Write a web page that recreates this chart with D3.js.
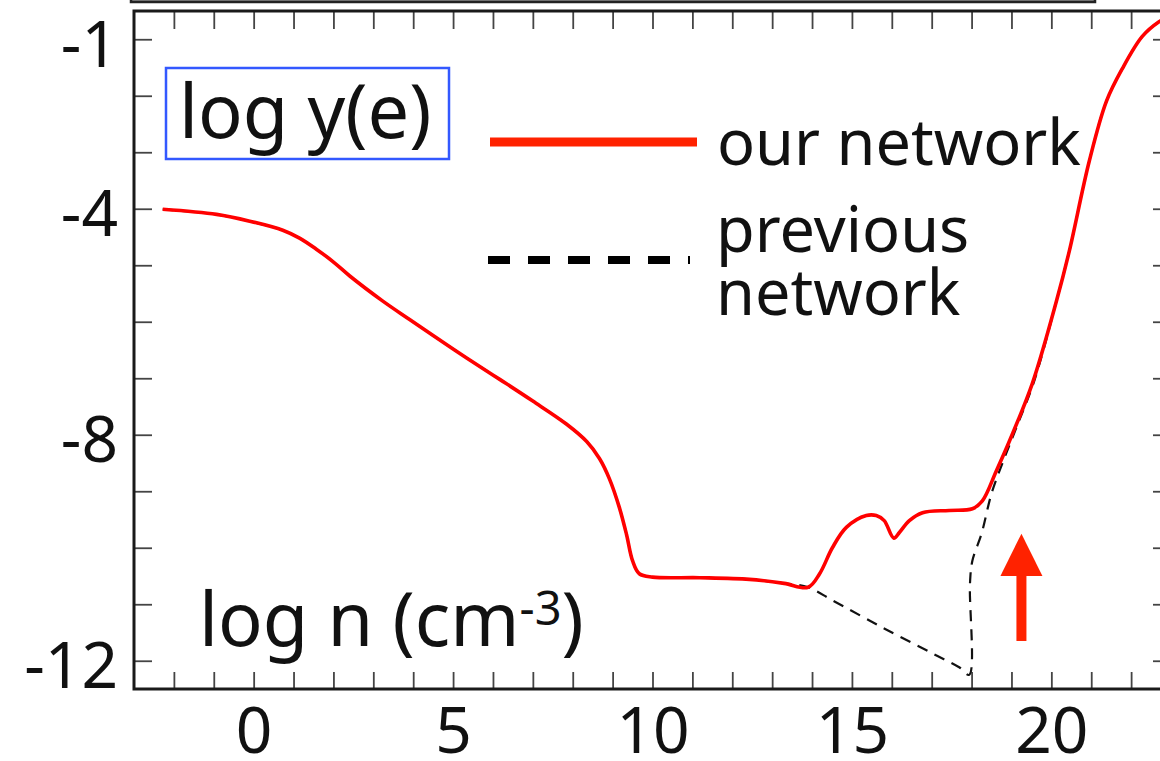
<!DOCTYPE html>
<html>
<head>
<meta charset="utf-8">
<script src="https://cdn.jsdelivr.net/npm/d3@7"></script>
<style>
  html, body { margin: 0; padding: 0; background: #fff; }
  svg { display: block; }
  text { font-family: "Noto Sans", sans-serif; fill: #111; }
</style>
</head>
<body>
<script>
// our network: log y(e) against log n
var ourNetwork = [
  [-2.28, -4.01], [-0.93, -4.10], [-0.10, -4.22], [0.73, -4.38], [1.15, -4.52],
  [1.58, -4.72], [1.98, -4.93], [2.41, -5.19], [3.23, -5.63], [3.91, -5.96],
  [4.49, -6.24], [5.34, -6.64], [6.17, -7.02], [6.99, -7.40], [7.84, -7.81],
  [8.35, -8.12], [8.67, -8.42], [8.92, -8.78], [9.17, -9.29], [9.35, -9.77],
  [9.50, -10.23], [9.67, -10.46], [10.0, -10.52], [11.18, -10.53], [12.43, -10.56],
  [13.3, -10.63], [13.9, -10.70], [14.19, -10.46], [14.51, -10.0], [14.86, -9.64],
  [15.36, -9.43], [15.61, -9.43], [15.81, -9.52], [16.05, -9.83], [16.19, -9.73],
  [16.44, -9.52], [16.77, -9.38], [17.44, -9.34], [18.02, -9.31], [18.27, -9.17],
  [18.62, -8.64], [18.95, -8.11], [19.52, -7.10], [20.13, -5.63], [20.45, -4.75],
  [20.95, -3.16], [21.38, -2.10], [21.78, -1.52], [22.28, -0.95], [22.7, -0.69],
  [23.0, -0.58]
];

// previous network
var prevNetwork = [
  [-2.28, -4.01], [-0.93, -4.10], [-0.10, -4.22], [0.73, -4.38], [1.15, -4.52],
  [1.58, -4.72], [1.98, -4.93], [2.41, -5.19], [3.23, -5.63], [3.91, -5.96],
  [4.49, -6.24], [5.34, -6.64], [6.17, -7.02], [6.99, -7.40], [7.84, -7.81],
  [8.35, -8.12], [8.67, -8.42], [8.92, -8.78], [9.17, -9.29], [9.35, -9.77],
  [9.50, -10.23], [9.67, -10.46], [10.0, -10.52], [11.18, -10.53], [12.43, -10.56],
  [13.3, -10.63], [13.9, -10.70], [14.51, -10.93], [15.76, -11.41], [17.02, -11.87],
  [17.7, -12.12], [17.94, -12.25], [17.96, -10.63], [18.02, -10.23], [18.25, -9.75],
  [18.50, -9.04], [18.77, -8.51], [19.12, -7.88], [19.57, -7.05], [20.13, -5.63],
  [20.45, -4.75], [20.95, -3.16], [21.38, -2.10], [21.78, -1.52], [22.28, -0.95],
  [22.7, -0.69], [23.0, -0.58]
];

var xTicks = d3.range(-2, 23);
var xLabels = [0, 5, 10, 15, 20];
var yTicks = d3.range(-12, 0);
var yLabels = [-1, -4, -8, -12];

// red arrow (data units)
var arrowX = 19.25, arrowTip = -9.75, arrowHead = -10.5, arrowTail = -11.65;

var width = 1160, height = 761;
var svg = d3.select("body").append("svg")
    .attr("width", width)
    .attr("height", height);

var x = d3.scaleLinear().domain([-3, 23]).range([134, 1171]);
var y = d3.scaleLinear().domain([-12.5, -0.5]).range([689, 11]);

// bottom of the panel above (cut off)
svg.append("rect")
    .attr("x", 131).attr("y", -12)
    .attr("width", 964).attr("height", 14)
    .attr("fill", "#8c8c8c")
    .attr("stroke", "#222").attr("stroke-width", 2.5);

svg.append("defs").append("clipPath").attr("id", "plot")
  .append("rect")
    .attr("x", x(-3)).attr("y", y(-0.5))
    .attr("width", x(23) - x(-3)).attr("height", y(-12.5) - y(-0.5));

// axes, ticks pointing inward
var bottom = svg.append("g")
    .attr("transform", "translate(0," + y(-12.5) + ")")
    .call(d3.axisBottom(x).tickValues(xTicks).tickSize(-17).tickPadding(19)
      .tickFormat(function(d) { return xLabels.indexOf(d) >= 0 ? d : ""; }));

var top = svg.append("g")
    .attr("transform", "translate(0," + y(-0.5) + ")")
    .call(d3.axisTop(x).tickValues(xTicks).tickSize(-18).tickFormat(""));

var left = svg.append("g")
    .attr("transform", "translate(" + x(-3) + ",0)")
    .call(d3.axisLeft(y).tickValues(yTicks).tickSize(-18).tickPadding(16)
      .tickFormat(function(d) { return yLabels.indexOf(d) >= 0 ? d : ""; }));

var right = svg.append("g")
    .attr("transform", "translate(" + x(23) + ",0)")
    .call(d3.axisRight(y).tickValues(yTicks).tickSize(-18).tickFormat(""));

svg.selectAll(".domain").remove();
svg.selectAll(".tick line").attr("stroke", "#444").attr("stroke-width", 1.8);
svg.selectAll(".tick text")
    .attr("font-family", "Noto Sans")
    .attr("font-size", 64)
    .attr("fill", "#111");
left.selectAll(".tick text").attr("dy", "0.42em");

// frame
svg.append("rect")
    .attr("x", x(-3)).attr("y", y(-0.5))
    .attr("width", x(23) - x(-3)).attr("height", y(-12.5) - y(-0.5))
    .attr("fill", "none")
    .attr("stroke", "#1a1a1a").attr("stroke-width", 3);

var line = d3.line()
    .x(function(d) { return x(d[0]); })
    .y(function(d) { return y(d[1]); })
    .curve(d3.curveCatmullRom.alpha(0.5));

var plot = svg.append("g").attr("clip-path", "url(#plot)");

plot.append("path")
    .datum(prevNetwork)
    .attr("d", line)
    .attr("fill", "none")
    .attr("stroke", "#111")
    .attr("stroke-width", 2.2)
    .attr("stroke-dasharray", "11,8");

plot.append("path")
    .datum(ourNetwork)
    .attr("d", line)
    .attr("fill", "none")
    .attr("stroke", "#ff0000")
    .attr("stroke-width", 3.6);

// arrow
var ax = x(arrowX);
svg.append("rect")
    .attr("x", ax - 5).attr("y", y(arrowHead) - 1)
    .attr("width", 10).attr("height", y(arrowTail) - y(arrowHead) + 1)
    .attr("fill", "#ff2200");
svg.append("path")
    .attr("d", "M" + ax + "," + y(arrowTip) + "L" + (ax + 21) + "," + y(arrowHead) +
               "L" + (ax - 21) + "," + y(arrowHead) + "Z")
    .attr("fill", "#ff2200");

// label box
svg.append("rect")
    .attr("x", 166).attr("y", 68)
    .attr("width", 283).attr("height", 91)
    .attr("fill", "none")
    .attr("stroke", "#3358ff").attr("stroke-width", 2.5);
svg.append("text")
    .attr("x", 179).attr("y", 138)
    .attr("font-size", 74)
    .text("log y(e)");

// x axis title
var xt = svg.append("text")
    .attr("x", 199).attr("y", 646)
    .attr("font-size", 74);
xt.append("tspan").text("log n (cm");
xt.append("tspan").attr("dy", -21).attr("font-size", 47).text("-3");
xt.append("tspan").attr("dy", 21).text(")");

// legend
svg.append("line")
    .attr("x1", 490).attr("x2", 697)
    .attr("y1", 142).attr("y2", 142)
    .attr("stroke", "#ff2200").attr("stroke-width", 9);
svg.append("text")
    .attr("x", 717).attr("y", 165)
    .attr("font-size", 63)
    .text("our network");

svg.append("line")
    .attr("x1", 488).attr("x2", 690)
    .attr("y1", 260).attr("y2", 260)
    .attr("stroke", "#000").attr("stroke-width", 8)
    .attr("stroke-dasharray", "22,18");
svg.append("text")
    .attr("x", 716).attr("y", 252)
    .attr("font-size", 63)
    .text("previous");
svg.append("text")
    .attr("x", 716).attr("y", 315)
    .attr("font-size", 63)
    .text("network");
</script>
</body>
</html>
